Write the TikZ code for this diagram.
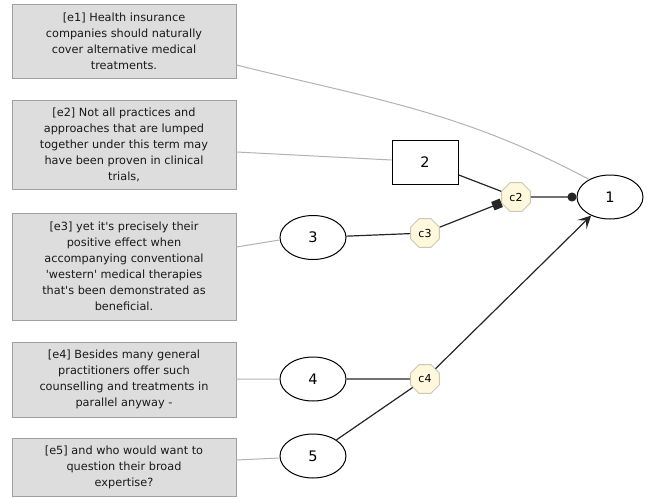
\documentclass[tikz,border=0pt]{standalone}
\usepackage{fontspec}
\setmainfont{DejaVu Sans}[Ligatures=TeXOff]
\usetikzlibrary{shapes.geometric,arrows.meta}
\definecolor{boxfill}{HTML}{DDDDDD}
\definecolor{boxline}{HTML}{A0A0A0}
\definecolor{connfill}{HTML}{FFF8DC}
\definecolor{connline}{HTML}{C8C8B4}
\tikzset{
  textbox/.style={draw=boxline, fill=boxfill, line width=0.9pt, minimum width=224pt,
    align=center, inner sep=2pt, text=black!90,
    font=\fontsize{11.3}{16}\selectfont},
  claim/.style={draw, ellipse, line width=1pt, minimum width=66pt, minimum height=44pt,
    inner sep=0pt, font=\fontsize{14.5}{16}\selectfont},
  claimbox/.style={draw, rectangle, line width=1pt, minimum width=66pt, minimum height=44pt,
    inner sep=0pt, font=\fontsize{14.5}{16}\selectfont},
  conn/.style={draw=connline, fill=connfill, regular polygon, regular polygon sides=8,
    minimum size=31pt, inner sep=0pt, line width=0.9pt, font=\fontsize{11}{11}\selectfont},
  link/.style={draw=black!85, line width=1.2pt},
  source/.style={draw=black!30, line width=1pt},
}
\begin{document}
\begin{tikzpicture}[x=1pt, y=-1pt]
  \useasboundingbox (0,0) rectangle (649,498);

  % source text boxes
  \node[textbox, minimum height=74pt] (e1) at (124,41)
    {[e1] Health insurance\\companies should naturally\\cover alternative medical\\treatments.};
  \node[textbox, minimum height=89pt] (e2) at (124,144.5)
    {[e2] Not all practices and\\approaches that are lumped\\together under this term may\\have been proven in clinical\\trials,};
  \node[textbox, minimum height=107pt] (e3) at (124,266.5)
    {[e3] yet it's precisely their\\positive effect when\\accompanying conventional\\'western' medical therapies\\that's been demonstrated as\\beneficial.};
  \node[textbox, minimum height=75pt] (e4) at (124,379.5)
    {[e4] Besides many general\\practitioners offer such\\counselling and treatments in\\parallel anyway -};
  \node[textbox, minimum height=58pt] (e5) at (124,467)
    {[e5] and who would want to\\question their broad\\expertise?};

  % claims
  \node[claim] (n1) at (610,197) {1};
  \node[claimbox] (n2) at (425,162) {2};
  \node[claim] (n3) at (313,237.5) {3};
  \node[claim] (n4) at (313,379) {4};
  \node[claim] (n5) at (313,456) {5};

  % connectors
  \node[conn] (c2) at (516,197) {c2};
  \node[conn] (c3) at (425,233) {c3};
  \node[conn] (c4) at (425,379) {c4};

  % links from text to claims
  \draw[source] (e1.east |- 0,65) to[out=-14, in=152] (n1.140);
  \draw[source] (e2.east |- 0,152) -- (n2.west |- 0,160);
  \draw[source] (e3.east |- 0,247) -- (n3.west |- 0,240);
  \draw[source] (e4) -- (n4);
  \draw[source] (e5.east |- 0,460) -- (n5.west |- 0,458);

  % argument structure
  \draw[link] (n2) -- (c2);
  \draw[link] (n3) -- (c3);
  \draw[link, -{Square[length=9pt,width=9pt]}] (c3) -- (c2);
  \draw[link, -{Circle[length=9pt,width=9pt]}] (c2) -- (n1);
  \draw[link] (n4) -- (c4);
  \draw[link] (n5) -- (c4);
  \draw[link, -{Stealth[length=13pt,width=13pt,inset=6pt]}] (c4) -- (n1);
\end{tikzpicture}
\end{document}
